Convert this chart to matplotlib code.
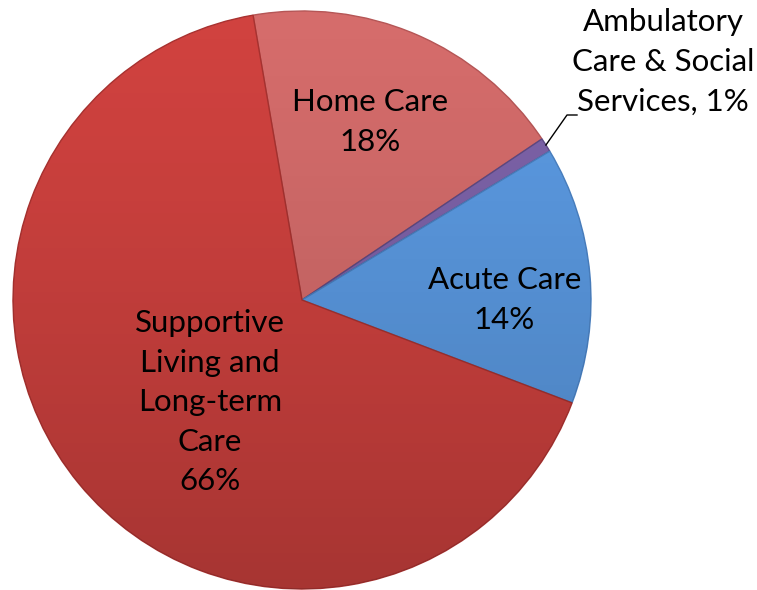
import numpy as np
import matplotlib
matplotlib.use("Agg")
import matplotlib.pyplot as plt
from matplotlib.patches import Circle

categories = ["Home Care", "Ambulatory\nCare & Social\nServices", "Acute Care", "Supportive\nLiving and\nLong-term\nCare"]
values = [18.3, 0.8, 14.4, 66.5]
pct_labels = ["18%", "1%", "14%", "66%"]
colors = ["#D56C6B", "#7D63A9", "#5B9AE2", "#D0423F"]
edges = ["#B55656", "#5E4A85", "#4A80C0", "#A83230"]

W, H, DPI = 757, 590, 100
fig = plt.figure(figsize=(W / DPI, H / DPI), dpi=DPI)
ax = fig.add_axes([0, 0, 1, 1])
R = 289.0
cx, cy = 302.0, 300.0

wedges, _ = ax.pie(values, colors=colors, startangle=99.75, counterclock=False,
                   radius=1.0, wedgeprops=dict(linewidth=1.0), frame=True)
for w, ec in zip(wedges, edges):
    w.set_edgecolor(ec)
ax.set_xlim(-cx / R, (W - cx) / R)
ax.set_ylim(-(H - cy) / R, cy / R)
ax.set_aspect("auto")
ax.axis("off")

# subtle vertical shading over the pie: darker toward the bottom
t = np.linspace(0, 1, 256).reshape(-1, 1)  # 0 = bottom, 1 = top
img = np.zeros((256, 1, 4))
img[..., 3] = 0.20 * (1 - t) ** 1.3
im = ax.imshow(img, extent=(-1, 1, -1, 1), aspect="auto", zorder=3, origin="lower",
               interpolation="bilinear")
im.set_clip_path(Circle((0, 0), 1.0, transform=ax.transData))

font = dict(family=["Lato", "DejaVu Sans"], fontsize=22.5, color="black",
            ha="center", va="center", linespacing=1.5, zorder=5)
ax.text(0.235, 0.616, categories[0] + "\n" + pct_labels[0], **font)
ax.text(0.70, 0.0, categories[2] + "\n" + pct_labels[2], **font)
ax.text(-0.318, -0.353, categories[3] + "\n" + pct_labels[3], **font)
ax.text(1.249, 0.824, "Ambulatory\nCare & Social\nServices, " + pct_labels[1], **font)

# leader line from the ambulatory slice
mid = np.deg2rad(99.75 - 360 * (values[0] + values[1] / 2) / 100)
p0 = (np.cos(mid), np.sin(mid))
ax.plot([p0[0], (567 - cx) / R, (577 - cx) / R],
        [p0[1], (cy - 115) / R, (cy - 115) / R], color="black", lw=1.0, zorder=5)

fig.savefig("out.png", dpi=DPI)
